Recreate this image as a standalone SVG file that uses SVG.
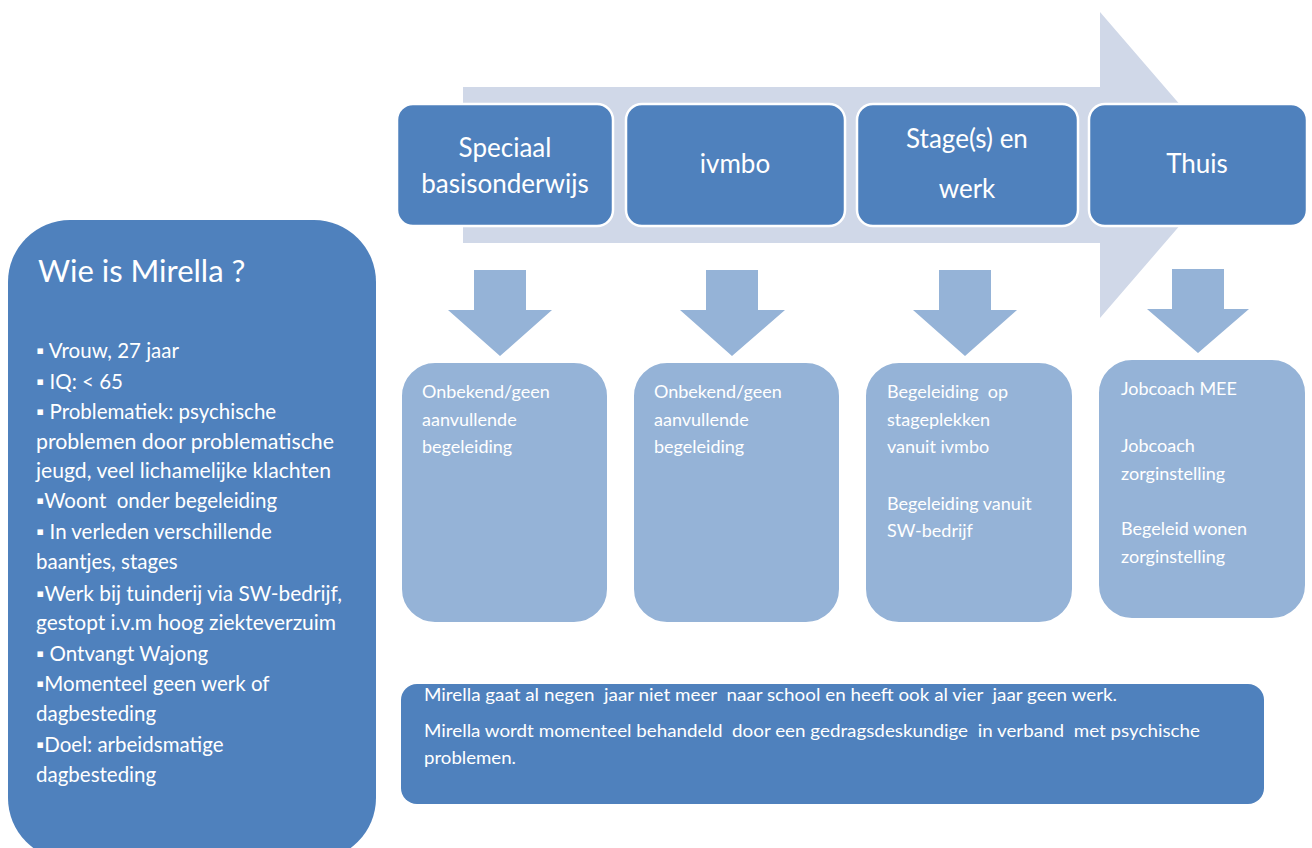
<svg xmlns="http://www.w3.org/2000/svg" width="1312" height="848" viewBox="0 0 1312 848">
<style>
.top{fill:#4F81BD;stroke:#fff;stroke-width:2.5}
.sub{fill:#95B3D7;stroke:#fff;stroke-width:2}
.dn{fill:#95B3D7}
.t{font-family:Lato,"Open Sans",sans-serif;fill:#fff}
.h{font-size:26px;text-anchor:middle}
.s{font-size:18px}
.l{font-size:20.5px}
.b{font-size:16.5px}
</style>
<rect width="1312" height="848" fill="#fff"/>
<g id="flow-arrow">
<polygon points="463,87 1100,87 1100,12 1232,165 1100,318 1100,243 463,243" fill="#D0D8E8"/>
</g>
<g id="mirella">
<rect x="8" y="220" width="368" height="640" rx="62" fill="#4F81BD"/>
<text class="t" x="38" y="282" font-size="31">Wie is Mirella ?</text>
<g class="t l">
<text x="36" y="358">▪ Vrouw, 27 jaar</text>
<text x="36" y="389">▪ IQ: &lt; 65</text>
<text x="36" y="419">▪ Problematiek: psychische</text>
<text x="36" y="449" textLength="298" lengthAdjust="spacingAndGlyphs">problemen door problematische</text>
<text x="36" y="478" textLength="295" lengthAdjust="spacingAndGlyphs">jeugd, veel lichamelijke klachten</text>
<text x="36" y="508" xml:space="preserve">▪Woont  onder begeleiding</text>
<text x="36" y="539">▪ In verleden verschillende</text>
<text x="36" y="569">baantjes, stages</text>
<text x="36" y="601" textLength="306" lengthAdjust="spacingAndGlyphs">▪Werk bij tuinderij via SW-bedrijf,</text>
<text x="36" y="630" textLength="300" lengthAdjust="spacingAndGlyphs">gestopt i.v.m hoog ziekteverzuim</text>
<text x="36" y="661">▪ Ontvangt Wajong</text>
<text x="36" y="691">▪Momenteel geen werk of</text>
<text x="36" y="721">dagbesteding</text>
<text x="36" y="752">▪Doel: arbeidsmatige</text>
<text x="36" y="782">dagbesteding</text>
</g>
</g>
<g id="speciaal">
<rect class="top" x="397" y="104" width="216" height="122" rx="16"/>
<text class="t h" x="505" y="157">Speciaal</text>
<text class="t h" x="505" y="193">basisonderwijs</text>
</g>
<g id="ivmbo">
<rect class="top" x="626" y="104" width="219" height="122" rx="16"/>
<text class="t h" x="735" y="173">ivmbo</text>
</g>
<g id="stage">
<rect class="top" x="857" y="104" width="221" height="122" rx="16"/>
<text class="t h" x="967" y="148">Stage(s) en</text>
<text class="t h" x="967" y="198">werk</text>
</g>
<g id="thuis">
<rect class="top" x="1089" y="104" width="218" height="122" rx="16"/>
<text class="t h" x="1197" y="173">Thuis</text>
</g>
<g id="connectors">
<polygon class="dn" points="474,270 526,270 526,310 552,310 500,356 448,310 474,310"/>
<polygon class="dn" points="706,270 758,270 758,310 785,310 732,356 680,310 706,310"/>
<polygon class="dn" points="939,270 991,270 991,310 1017,310 965,356 913,310 939,310"/>
<polygon class="dn" points="1172,269 1224,269 1224,309 1249,309 1198,353 1147,309 1172,309"/>
</g>
<g id="begeleiding-1">
<rect class="sub" x="401" y="362" width="207" height="261" rx="34"/>
<g class="t s">
<text x="422" y="398">Onbekend/geen</text>
<text x="422" y="426">aanvullende</text>
<text x="422" y="453">begeleiding</text>
</g>
</g>
<g id="begeleiding-2">
<rect class="sub" x="633" y="362" width="207" height="261" rx="34"/>
<g class="t s">
<text x="654" y="398">Onbekend/geen</text>
<text x="654" y="426">aanvullende</text>
<text x="654" y="453">begeleiding</text>
</g>
</g>
<g id="begeleiding-3">
<rect class="sub" x="865" y="362" width="208" height="261" rx="34"/>
<g class="t s">
<text x="887" y="398" xml:space="preserve">Begeleiding  op</text>
<text x="887" y="426">stageplekken</text>
<text x="887" y="453">vanuit ivmbo</text>
<text x="887" y="510">Begeleiding vanuit</text>
<text x="887" y="537">SW-bedrijf</text>
</g>
</g>
<g id="begeleiding-4">
<rect class="sub" x="1098" y="359" width="208" height="260" rx="34"/>
<g class="t s">
<text x="1121" y="395">Jobcoach MEE</text>
<text x="1121" y="452">Jobcoach</text>
<text x="1121" y="480">zorginstelling</text>
<text x="1121" y="535">Begeleid wonen</text>
<text x="1121" y="563">zorginstelling</text>
</g>
</g>
<g id="samenvatting">
<rect x="401" y="684" width="863" height="120" rx="16" fill="#4F81BD"/>
<g class="t b">
<text x="424" y="701" textLength="693" lengthAdjust="spacingAndGlyphs" xml:space="preserve">Mirella gaat al negen  jaar niet meer  naar school en heeft ook al vier  jaar geen werk.</text>
<text x="424" y="737" textLength="776" lengthAdjust="spacingAndGlyphs" xml:space="preserve">Mirella wordt momenteel behandeld  door een gedragsdeskundige  in verband  met psychische</text>
<text x="424" y="764" textLength="92" lengthAdjust="spacingAndGlyphs">problemen.</text>
</g>
</g>
</svg>
